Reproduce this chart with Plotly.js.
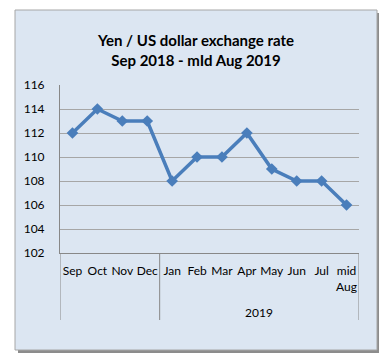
<!DOCTYPE html>
<html>
<head>
<meta charset="utf-8">
<script src="https://cdn.plot.ly/plotly-3.0.1.min.js"></script>
<style>html,body{margin:0;padding:0;background:#fff;}#chart{width:392px;height:363px;}</style>
</head>
<body>
<div id="chart"></div>
<script>
const months = ["Sep", "Oct", "Nov", "Dec", "Jan", "Feb", "Mar", "Apr", "May", "Jun", "Jul", "mid<br>Aug"];
const rates = [112, 114, 113, 113, 108, 110, 110, 112, 109, 108, 108, 106];
const yearLabel = "2019";
const yTicks = [102, 104, 106, 108, 110, 112, 114, 116];

const W = 392, H = 363, ml = 60, mr = 33, mt = 85, mb = 110;
const pw = W - ml - mr, ph = H - mt - mb;
const px = v => (v - ml) / pw;
const py = v => (H - mb - v) / ph;

const idx = months.map((m, i) => i);

const trace = {
  x: idx,
  y: rates,
  type: "scatter",
  mode: "lines+markers",
  line: {color: "#4A7EBB", width: 3.5},
  marker: {symbol: "diamond", size: 9, color: "#4A7EBB"},
  hoverinfo: "skip"
};

const layout = {
  width: W, height: H,
  margin: {l: ml, r: mr, t: mt, b: mb},
  paper_bgcolor: "#ffffff",
  plot_bgcolor: "#D9D9D9",
  font: {family: "Lato, 'Open Sans', sans-serif", size: 12, color: "#000"},
  showlegend: false,
  title: {
    text: "<b>Yen / US dollar exchange rate<br>Sep 2018 - mId Aug 2019</b>",
    font: {family: "Lato, 'Open Sans', sans-serif", size: 15, color: "#000"},
    x: 0.5, xref: "container", xanchor: "center",
    y: 1 - 46 / H, yref: "container", yanchor: "middle"
  },
  xaxis: {
    type: "linear",
    range: [-0.5, 11.5],
    tickmode: "array",
    tickvals: idx,
    ticktext: months,
    showgrid: false,
    zeroline: false,
    showline: true,
    linecolor: "#888888",
    linewidth: 1,
    ticks: "",
    ticklabelstandoff: 7,
    tickfont: {size: 12, color: "#000"},
    fixedrange: true
  },
  yaxis: {
    range: [102, 116],
    tickmode: "array",
    tickvals: yTicks,
    ticktext: yTicks.map(String),
    showgrid: true,
    gridcolor: "#A6A6A6",
    gridwidth: 1,
    zeroline: false,
    showline: true,
    linecolor: "#888888",
    ticks: "",
    ticklabelstandoff: 12,
    tickfont: {size: 12, color: "#000"},
    fixedrange: true
  },
  shapes: [
    {type: "rect", xref: "paper", yref: "paper", layer: "below",
     x0: px(18), x1: px(379), y0: py(353), y1: py(13),
     fillcolor: "#8C8C8C", line: {width: 0}},
    {type: "rect", xref: "paper", yref: "paper", layer: "below",
     x0: px(15), x1: px(377), y0: py(350), y1: py(10),
     fillcolor: "#DCE6F2", line: {color: "#A6A6A6", width: 1}},
    {type: "line", xref: "x", yref: "paper", x0: -0.5, x1: -0.5, y0: 0, y1: py(320),
     line: {color: "#888888", width: 1}},
    {type: "line", xref: "x", yref: "paper", x0: 3.5, x1: 3.5, y0: 0, y1: py(320),
     line: {color: "#888888", width: 1}},
    {type: "line", xref: "x", yref: "paper", x0: 11.5, x1: 11.5, y0: 0, y1: py(320),
     line: {color: "#888888", width: 1}}
  ],
  annotations: [
    {text: yearLabel, xref: "x", yref: "paper", x: 7.5, y: py(312),
     showarrow: false, xanchor: "center", yanchor: "middle",
     font: {size: 12, color: "#000"}}
  ]
};

Plotly.newPlot("chart", [trace], layout, {displayModeBar: false, staticPlot: true});
</script>
</body>
</html>
